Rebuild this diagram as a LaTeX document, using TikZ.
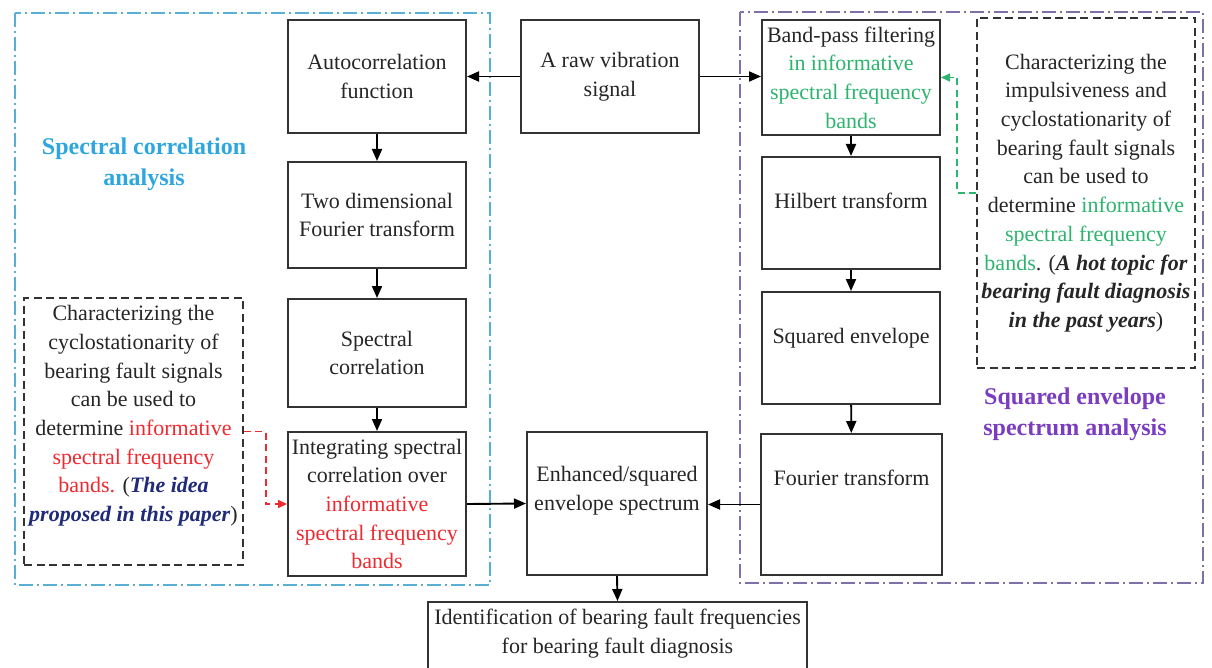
\documentclass[tikz,border=0pt]{standalone}
\usepackage{fontspec}
\setmainfont{Liberation Serif}
\usetikzlibrary{arrows.meta}
\definecolor{boxline}{HTML}{333333}
\definecolor{txt}{HTML}{262626}
\definecolor{scblue}{HTML}{2EA6E0}
\definecolor{scframe}{HTML}{5AAFD6}
\definecolor{sepurple}{HTML}{7A3CC0}
\definecolor{seframe}{HTML}{7F70AA}
\definecolor{infogreen}{HTML}{2DB46E}
\definecolor{infored}{HTML}{EE2A30}
\definecolor{ideanavy}{HTML}{1F2A78}
\tikzset{
  bodyfont/.style={font=\fontsize{22}{28.7}\selectfont},
  stepbox/.style={draw=boxline, line width=2pt, inner sep=1pt, align=center, text=txt, bodyfont},
  notebox/.style={draw=boxline, line width=1.8pt, dash pattern=on 8pt off 4.5pt, inner sep=1pt, align=center, text=txt, bodyfont},
  flow/.style={line width=1.9pt, draw=black, -{Triangle[length=12pt,width=10pt]}},
  hint/.style={line width=1.6pt, dash pattern=on 7pt off 4.5pt, -{Triangle[length=9pt,width=8pt]}},
  region/.style={line width=1.3pt, dash pattern=on 14pt off 4pt on 2pt off 4pt},
  regionlabel/.style={font=\bfseries\fontsize{24}{31}\selectfont, align=center}
}
\begin{document}
\begin{tikzpicture}[x=1pt, y=-1pt]
\useasboundingbox (0,0) rectangle (1212,668);
\fill[white] (0,0) rectangle (1212,668);

% analysis regions
\draw[region, scframe] (15,13) rectangle (490,585);
\draw[region, seframe] (740,12) rectangle (1203,583);

\node[regionlabel, text=scblue] (sclabel) at (144,164) {Spectral correlation\\analysis};
\node[regionlabel, text=sepurple] (selabel) at (1075,414) {Squared envelope\\spectrum analysis};

% left column
\node[stepbox, minimum width=178pt, minimum height=113pt] (autoc) at (377,76.5) {Autocorrelation\\function};
\node[stepbox, minimum width=178pt, minimum height=106pt] (twod) at (377,215) {Two dimensional\\Fourier transform};
\node[stepbox, minimum width=178pt, minimum height=108pt] (spcor) at (377,353) {Spectral\\correlation};
\node[stepbox, minimum width=178pt, minimum height=144pt] (integ) at (377,504) {Integrating spectral\\correlation over\\\textcolor{infored}{informative}\\\textcolor{infored}{spectral frequency}\\\textcolor{infored}{bands}};

% middle column
\node[stepbox, minimum width=178pt, minimum height=113pt] (raw) at (610,76.5) {A raw vibration\\signal};
\node[stepbox, minimum width=180pt, minimum height=143pt, text depth=30pt] (enh) at (617,503.5) {Enhanced/squared\\envelope spectrum};
\node[stepbox, minimum width=379pt, minimum height=88pt, text depth=29pt] (ident) at (617.5,646) {Identification of bearing fault frequencies\\for bearing fault diagnosis};

% right column
\node[stepbox, minimum width=178pt, minimum height=115pt] (band) at (851,77.5) {Band-pass filtering\\\textcolor{infogreen}{in informative}\\\textcolor{infogreen}{spectral frequency}\\\textcolor{infogreen}{bands}};
\node[stepbox, minimum width=178pt, minimum height=112pt, text depth=25pt] (hilb) at (851,213) {Hilbert transform};
\node[stepbox, minimum width=178pt, minimum height=112pt, text depth=25pt] (sqenv) at (851,348) {Squared envelope};
\node[stepbox, minimum width=181pt, minimum height=141pt, text depth=54pt] (fourier) at (851.5,504.5) {Fourier transform};

% note boxes
\node[notebox, minimum width=219pt, minimum height=267pt, text depth=36pt] (ldash) at (133.5,431.5) {Characterizing the\\cyclostationarity of\\bearing fault signals\\can be used to\\determine \textcolor{infored}{informative}\\\textcolor{infored}{spectral frequency}\\\textcolor{infored}{bands.} (\textcolor{ideanavy}{\textbf{\textit{The idea}}}\\\textcolor{ideanavy}{\textbf{\textit{proposed in this paper}}})};
\node[notebox, minimum width=218pt, minimum height=350pt] (rdash) at (1086,193) {Characterizing the\\impulsiveness and\\cyclostationarity of\\bearing fault signals\\can be used to\\determine \textcolor{infogreen}{informative}\\\textcolor{infogreen}{spectral frequency}\\\textcolor{infogreen}{bands}. (\textbf{\textit{A hot topic for}}\\\textbf{\textit{bearing fault diagnosis}}\\\textbf{\textit{in the past years}})};

% flow arrows
\draw[flow] (raw.west) -- (autoc.east);
\draw[flow] (raw.east) -- (raw.east -| band.west);
\draw[flow] (autoc) -- (twod);
\draw[flow] (twod) -- (spcor);
\draw[flow] (spcor) -- (integ);
\draw[flow] (band) -- (hilb);
\draw[flow] (hilb) -- (sqenv);
\draw[flow] (sqenv) -- (fourier);
\draw[flow] (integ.east) -- (enh.west);
\draw[flow] (fourier.west) -- (fourier.west -| enh.east);
\draw[flow] (enh.south) -- (ident.north);

% hint connectors
\draw[hint, infored] (ldash.east) -- ++(22,0) |- (integ.west);
\draw[hint, infogreen] (rdash.west) -- ++(-19,0) |- (band.east);
\end{tikzpicture}
\end{document}
